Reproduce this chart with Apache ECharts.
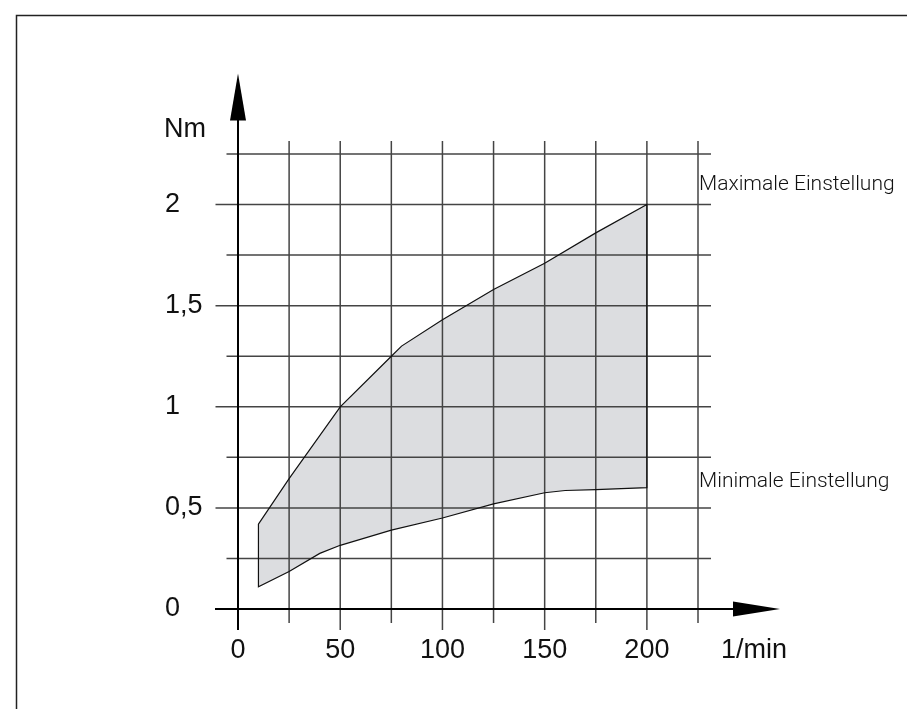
<!DOCTYPE html>
<html>
<head>
<meta charset="utf-8">
<script src="https://cdn.jsdelivr.net/npm/echarts@6/dist/echarts.min.js"></script>
<style>
	html, body { margin: 0; padding: 0; background: #fff; }
	#chart { width: 907px; height: 709px; }
</style>
</head>
<body>
<div id="chart"></div>
<script>
// Drehzahl (1/min) und Drehmoment (Nm)
const maxSpeed = [10, 25, 50, 75, 80, 100, 125, 150, 175, 200]
const maxTorque = [0.42, 0.645, 1.0, 1.25, 1.3, 1.43, 1.58, 1.71, 1.86, 2.0]
const minSpeed = [10, 25, 40, 50, 75, 100, 125, 150, 160, 175, 200]
const minTorque = [0.11, 0.185, 0.275, 0.315, 0.39, 0.45, 0.52, 0.575, 0.586, 0.59, 0.6]

// Raster und Beschriftung
const xGrid = [25, 50, 75, 100, 125, 150, 175, 200, 225]
const yGrid = [0.25, 0.5, 0.75, 1, 1.25, 1.5, 1.75, 2, 2.25]
const xLabels = [0, 50, 100, 150, 200]
const yLabels = [0, 0.5, 1, 1.5, 2]
const X_MAX = 225
const Y_MAX = 2.25

const LABEL_FONT = '"Liberation Sans", Arial, sans-serif'
const NOTE_FONT = 'Roboto, "Noto Sans", sans-serif'
const GRID_COLOR = '#444'

const chart = echarts.init(document.getElementById('chart'), null, { renderer: 'canvas' })

// Fläche zwischen min. und max. Einstellung als Polygon
function bandPoints(api) {
	const pts = []
	maxSpeed.forEach((x, i) => pts.push(api.coord([x, maxTorque[i]])))
	for (let i = minSpeed.length - 1; i >= 0; i--) {
		pts.push(api.coord([minSpeed[i], minTorque[i]]))
	}
	return pts
}

// Rasterlinien + Achsen mit Pfeilen
const gridItems = [
	...xGrid.map(v => [v, 0]),
	...yGrid.map(v => [v, 1]),
	[0, 2],
	[0, 3],
]

function renderGrid(params, api) {
	const v = api.value(0)
	const kind = api.value(1)
	const origin = api.coord([0, 0])
	const corner = api.coord([X_MAX, Y_MAX])
	const thin = { stroke: GRID_COLOR, lineWidth: 1.5 }
	const axis = { stroke: '#000', lineWidth: 2 }
	if (kind === 0) {
		const p = api.coord([v, 0])
		const long = xLabels.includes(v)
		return {
			type: 'line',
			shape: { x1: p[0], y1: corner[1] - 13, x2: p[0], y2: origin[1] + (long ? 21 : 14) },
			style: thin,
		}
	}
	if (kind === 1) {
		const p = api.coord([0, v])
		const long = yLabels.includes(v)
		return {
			type: 'line',
			shape: { x1: origin[0] - (long ? 22.5 : 11.5), y1: p[1], x2: corner[0] + 13, y2: p[1] },
			style: thin,
		}
	}
	if (kind === 2) {
		const tip = corner[0] + 82
		return {
			type: 'group',
			children: [
				{ type: 'line', shape: { x1: origin[0] - 23, y1: origin[1], x2: tip - 10, y2: origin[1] }, style: axis },
				{
					type: 'polygon',
					shape: { points: [[tip, origin[1]], [tip - 47, origin[1] - 7.5], [tip - 47, origin[1] + 7.5]] },
					style: { fill: '#000' },
				},
			],
		}
	}
	const tip = corner[1] - 80.5
	return {
		type: 'group',
		children: [
			{ type: 'line', shape: { x1: origin[0], y1: origin[1] + 21, x2: origin[0], y2: tip + 10 }, style: axis },
			{
				type: 'polygon',
				shape: { points: [[origin[0], tip], [origin[0] - 8, tip + 47], [origin[0] + 8, tip + 47]] },
				style: { fill: '#000' },
			},
		],
	}
}

const option = {
	animation: false,
	backgroundColor: '#fff',
	grid: {
		left: 238,
		top: 154,
		width: 460,
		height: 455,
		containLabel: false,
		outerBoundsMode: 'none',
	},
	xAxis: {
		type: 'value',
		min: 0,
		max: X_MAX,
		interval: 25,
		axisLine: { show: false },
		axisTick: { show: false },
		splitLine: { show: false },
		axisLabel: {
			margin: 28,
			color: '#111',
			fontSize: 27,
			fontFamily: LABEL_FONT,
			formatter: v => (xLabels.includes(v) ? String(v) : ''),
		},
	},
	yAxis: {
		type: 'value',
		min: 0,
		max: Y_MAX,
		interval: 0.25,
		axisLine: { show: false },
		axisTick: { show: false },
		splitLine: { show: false },
		axisLabel: {
			margin: 73,
			align: 'left',
			padding: [4, 0, 0, 0],
			color: '#111',
			fontSize: 27,
			fontFamily: LABEL_FONT,
			formatter: v => (yLabels.includes(v) ? String(v).replace('.', ',') : ''),
		},
	},
	graphic: [
		{
			type: 'rect',
			left: 14,
			top: 13,
			shape: { width: 1000, height: 1000 },
			style: { fill: 'none', stroke: '#222', lineWidth: 1.5 },
		},
		{
			type: 'text',
			left: 164,
			top: 116,
			style: { text: 'Nm', fontSize: 27, fontFamily: LABEL_FONT, fill: '#111' },
		},
		{
			type: 'text',
			left: 721,
			top: 637,
			style: { text: '1/min', fontSize: 27, fontFamily: LABEL_FONT, fill: '#111' },
		},
		{
			type: 'text',
			left: 699,
			top: 174,
			style: { text: 'Maximale Einstellung', fontSize: 21, fontWeight: 300, fontFamily: NOTE_FONT, fill: '#111' },
		},
		{
			type: 'text',
			left: 699,
			top: 471,
			style: { text: 'Minimale Einstellung', fontSize: 21, fontWeight: 300, fontFamily: NOTE_FONT, fill: '#111' },
		},
	],
	series: [
		{
			type: 'custom',
			z: 1,
			silent: true,
			data: [[0, 0]],
			renderItem: (params, api) => ({
				type: 'polygon',
				shape: { points: bandPoints(api) },
				style: { fill: '#dcdde0' },
			}),
		},
		{
			type: 'custom',
			z: 2,
			silent: true,
			data: gridItems,
			renderItem: renderGrid,
		},
		{
			type: 'custom',
			z: 3,
			silent: true,
			data: [[0, 0]],
			renderItem: (params, api) => ({
				type: 'polygon',
				shape: { points: bandPoints(api) },
				style: { fill: 'none', stroke: '#111', lineWidth: 1.2 },
			}),
		},
	],
}

chart.setOption(option)
</script>
</body>
</html>
